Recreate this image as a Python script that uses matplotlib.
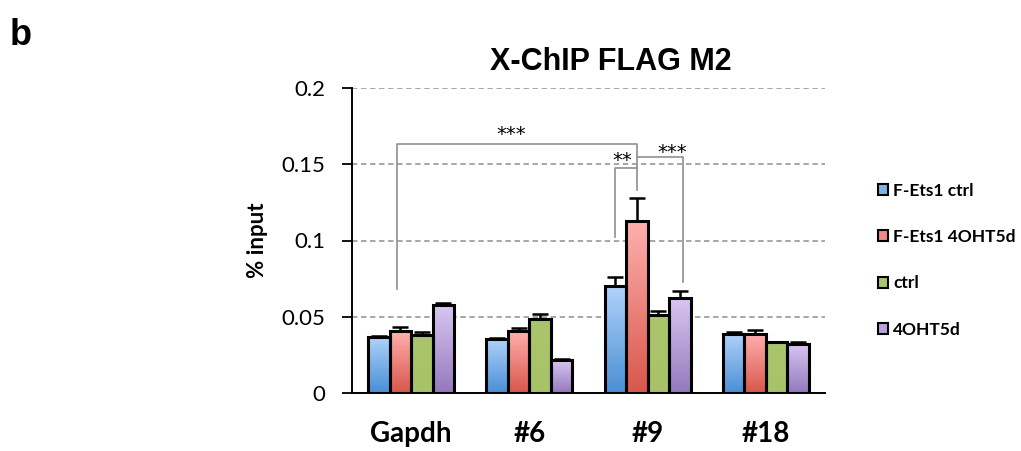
import numpy as np
import matplotlib
matplotlib.use('Agg')
import matplotlib.pyplot as plt
from matplotlib.patches import Patch
from matplotlib.colors import LinearSegmentedColormap

# data
groups = ['Gapdh', '#6', '#9', '#18']
series = ['F-Ets1 ctrl', 'F-Ets1 4OHT5d', 'ctrl', '4OHT5d']
vals_fets1_ctrl = [0.037, 0.0356, 0.070, 0.039]
vals_fets1_4oht = [0.0407, 0.0407, 0.113, 0.039]
vals_ctrl = [0.0378, 0.0487, 0.051, 0.0332]
vals_4oht = [0.0577, 0.0214, 0.0621, 0.0323]
err_fets1_ctrl = [0.0004, 0.0006, 0.0061, 0.0013]
err_fets1_4oht = [0.0026, 0.0019, 0.0147, 0.0024]
err_ctrl = [0.002, 0.0031, 0.0028, 0.0004]
err_4oht = [0.0013, 0.0009, 0.005, 0.0013]
yticks = [0, 0.05, 0.1, 0.15, 0.2]
ytick_labels = ['0', '0.05', '0.1', '0.15', '0.2']

vals = [vals_fets1_ctrl, vals_fets1_4oht, vals_ctrl, vals_4oht]
errs = [err_fets1_ctrl, err_fets1_4oht, err_ctrl, err_4oht]
# (top colour, bottom colour) of each gradient
grads = [('#b0d2fa', '#4a8fd6'), ('#ffb0ae', '#d9574c'),
         ('#abc56c', '#a8c268'), ('#d8c6f2', '#9479bd')]
legend_cols = ['#7fb0ea', '#f08a84', '#a9c46a', '#b9a2db']

fig = plt.figure(figsize=(10.21, 4.51), dpi=100)
ax = fig.add_axes([352/1021, 1-393/451, 473/1021, 305/451])

x = np.arange(len(groups))
w = 0.182
for j in range(4):
    pos = x + (j - 1.5) * w
    bars = ax.bar(pos, vals[j], w, color='none', edgecolor='black',
                  linewidth=2.2, zorder=3)
    ax.errorbar(pos, vals[j], yerr=[np.zeros(4), errs[j]], fmt='none',
                ecolor='black', elinewidth=1.8, capsize=5.5, capthick=1.8, zorder=2)
    cmap = LinearSegmentedColormap.from_list('g%d' % j, [grads[j][1], grads[j][0]])
    grad = np.linspace(0, 1, 100).reshape(-1, 1)
    for b in bars:
        bx, by = b.get_x(), b.get_y()
        im = ax.imshow(grad, cmap=cmap, aspect='auto', origin='lower',
                       extent=[bx, bx + b.get_width(), by, by + b.get_height()],
                       zorder=2.5)
        im.set_clip_path(b)

ax.set_xlim(-0.5, 3.5)
ax.set_ylim(0, 0.2)
ax.set_yticks(yticks)
ax.set_yticklabels(ytick_labels, fontsize=16, family='Lato')
ax.set_xticks(x)
ax.set_xticklabels(groups, fontsize=20, fontweight='bold', family='Lato')
ax.tick_params(axis='x', length=0, pad=20)
ax.tick_params(axis='y', length=7, width=1.3, direction='out', pad=12)
for yv in yticks[1:]:
    ax.axhline(yv, color='#a0a0a0', linestyle=(0, (3, 2)), linewidth=1.3, zorder=1)
ax.spines['top'].set_visible(False)
ax.spines['right'].set_visible(False)
ax.spines['left'].set_linewidth(1.4)
ax.spines['bottom'].set_linewidth(1.4)
ax.set_ylabel('% input', fontsize=16, fontweight='bold', family='Lato', labelpad=10)
fig.text(611/1021, 1-62/451, 'X-ChIP FLAG M2', fontsize=22, fontweight='bold',
         family='Liberation Sans', ha='center', va='center')

# significance brackets
def cx(g, j):
    return g + (j - 1.5) * w

bc = '#909090'
ax.plot([cx(0, 1) - 0.03, cx(0, 1) - 0.03, cx(2, 1), cx(2, 1)],
        [0.068, 0.1633, 0.1633, 0.133], color=bc, lw=1.2, zorder=1.5)
ax.plot([cx(2, 0), cx(2, 0), cx(2, 1)], [0.102, 0.1477, 0.1477],
        color=bc, lw=1.2, zorder=1.5)
ax.plot([cx(2, 1), cx(2, 3) + 0.03, cx(2, 3) + 0.03], [0.155, 0.155, 0.073],
        color=bc, lw=1.2, zorder=1.5)
ax.text(0.85, 0.163, '***', ha='center', va='bottom', fontsize=14)
ax.text(cx(2, 0) + 0.06, 0.146, '**', ha='center', va='bottom', fontsize=14)
ax.text(cx(2, 2) + 0.12, 0.1515, '***', ha='center', va='bottom', fontsize=14)

handles = [Patch(facecolor=legend_cols[j], edgecolor='black', linewidth=1.5)
           for j in range(4)]
fig.legend(handles, series, loc='upper left', bbox_to_anchor=(862/1021, 1-167/451),
           frameon=False, prop={'family': 'Lato', 'weight': 'bold', 'size': 12.5},
           handlelength=0.6, handleheight=0.6, handletextpad=0.3, labelspacing=1.75)

fig.text(10/1021, 1-45/451, 'b', fontsize=26, fontweight='bold', family='Liberation Sans')

fig.savefig('out.png', dpi=100)
